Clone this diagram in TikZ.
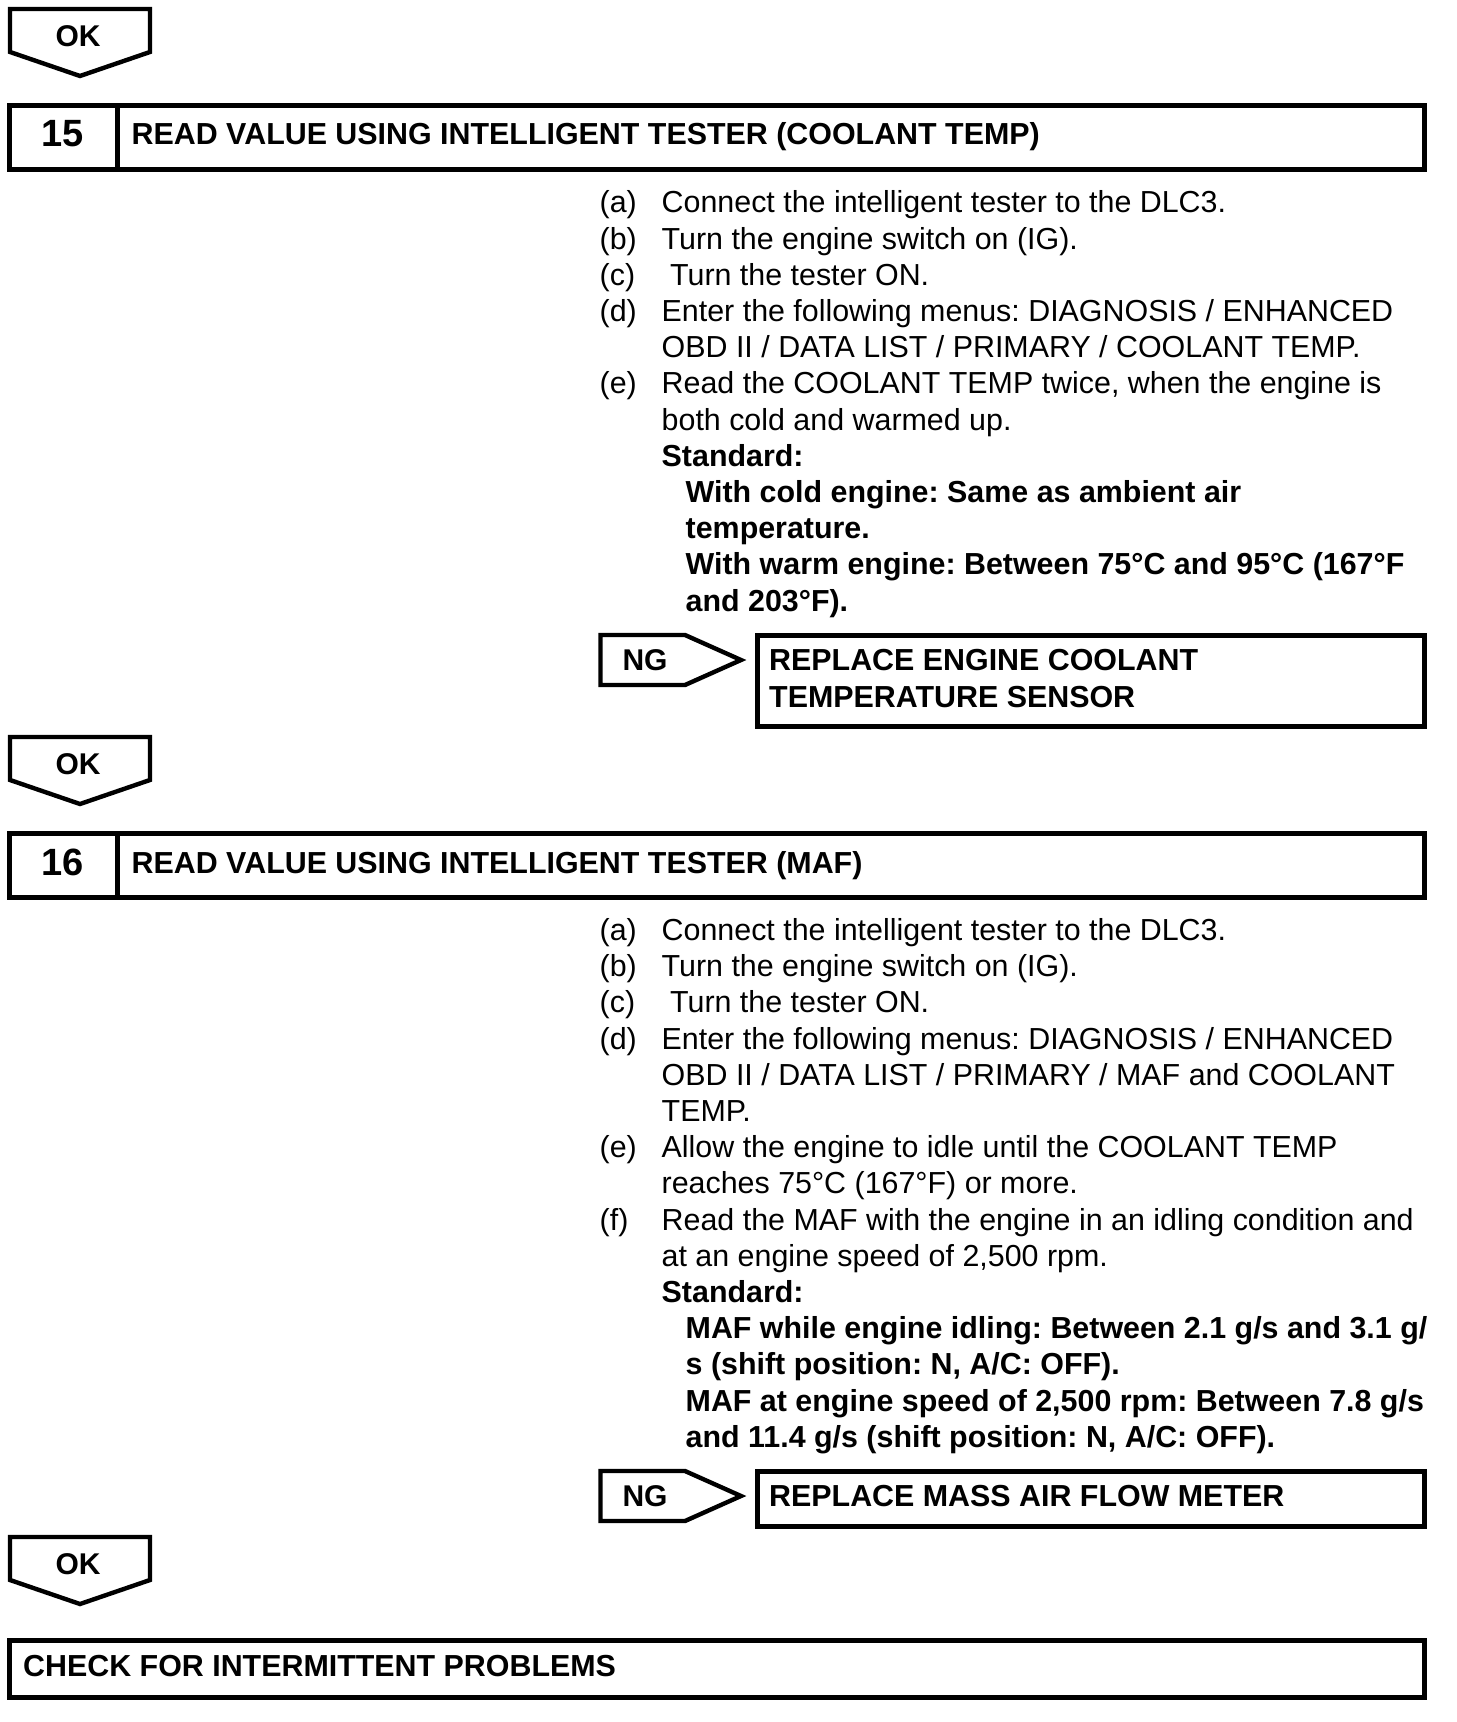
\documentclass[tikz,border=0pt]{standalone}
\usepackage{fontspec}
\setmainfont{Liberation Sans}
\frenchspacing

\begin{document}
\begin{tikzpicture}[x=0.5pt,y=-0.5pt,line width=2.2pt,
    numtxt/.style={anchor=base,inner sep=0pt,font=\bfseries\fontsize{19}{22}\selectfont},
    boldtxt/.style={anchor=base west,inner sep=0pt,align=left,
      font=\bfseries\fontsize{15.2}{18.1}\selectfont},
    steptext/.style={anchor=base west,inner sep=0pt,font=\fontsize{15.2}{18.1}\selectfont},
    flagtxt/.style={inner sep=0pt,font=\bfseries\fontsize{15}{18}\selectfont}
  ]
    \useasboundingbox (0,0) rectangle (1456,1722);

    \foreach \y/\nm in {9/ok14,737/ok15,1537/ok16}{
      \draw (10,\y) -- (150,\y) -- (150,\y+43) -- (80,\y+67) -- (10,\y+43) -- cycle;
      \node[flagtxt] (\nm) at (78,\y+27) {OK};
    }
    \foreach \y/\nm in {635/ng15,1471/ng16}{
      \draw (600.5,\y) -- (685,\y) -- (741,\y+25) -- (685,\y+50) -- (600.5,\y+50) -- cycle;
      \node[flagtxt] (\nm) at (645,\y+25.5) {NG};
    }

    \draw (9.5,105.5) rectangle (1424.5,169.5) (117.5,105.5) -- (117.5,169.5);
    \node[numtxt] (num15) at (63,147) {15};
    \node[boldtxt] (title15) at (129.5,145) {READ VALUE USING INTELLIGENT TESTER (COOLANT TEMP)};
    \node[steptext] (steps15) at (597.5,213) {\begin{tabular}[t]{@{}p{31pt}@{}l@{}}
      (a) & Connect the intelligent tester to the DLC3.\\
      (b) & Turn the engine switch on (IG).\\
      (c) & \ Turn the tester ON.\\
      (d) & Enter the following menus: DIAGNOSIS / ENHANCED\\
          & OBD II / DATA LIST / PRIMARY / COOLANT TEMP.\\
      (e) & Read the COOLANT TEMP twice, when the engine is\\
          & both cold and warmed up.\\
          & \textbf{Standard:}\\
          & \hspace*{12pt}\textbf{With cold engine: Same as ambient air}\\
          & \hspace*{12pt}\textbf{temperature.}\\
          & \hspace*{12pt}\textbf{With warm engine: Between 75°C and 95°C (167°F}\\
          & \hspace*{12pt}\textbf{and 203°F).}
    \end{tabular}};
    \draw (757.5,635.5) rectangle (1424.5,726.5);
    \node[boldtxt] (fix15) at (767,707) {REPLACE ENGINE COOLANT\\TEMPERATURE SENSOR};

    \draw (9.5,833.5) rectangle (1424.5,897.5) (117.5,833.5) -- (117.5,897.5);
    \node[numtxt] (num16) at (63,875) {16};
    \node[boldtxt] (title16) at (129.5,873) {READ VALUE USING INTELLIGENT TESTER (MAF)};
    \node[steptext] (steps16) at (597.5,940.5) {\begin{tabular}[t]{@{}p{31pt}@{}l@{}}
      (a) & Connect the intelligent tester to the DLC3.\\
      (b) & Turn the engine switch on (IG).\\
      (c) & \ Turn the tester ON.\\
      (d) & Enter the following menus: DIAGNOSIS / ENHANCED\\
          & OBD II / DATA LIST / PRIMARY / MAF and COOLANT\\
          & TEMP.\\
      (e) & Allow the engine to idle until the COOLANT TEMP\\
          & reaches 75°C (167°F) or more.\\
      (f) & Read the MAF with the engine in an idling condition and\\
          & at an engine speed of 2,500 rpm.\\
          & \textbf{Standard:}\\
          & \hspace*{12pt}\textbf{MAF while engine idling: Between 2.1 g/s and 3.1 g/}\\
          & \hspace*{12pt}\textbf{s (shift position: N, A/C: OFF).}\\
          & \hspace*{12pt}\textbf{MAF at engine speed of 2,500 rpm: Between 7.8 g/s}\\
          & \hspace*{12pt}\textbf{and 11.4 g/s (shift position: N, A/C: OFF).}
    \end{tabular}};
    \draw (757.5,1471.5) rectangle (1424.5,1526.5);
    \node[boldtxt] (fix16) at (767,1506.5) {REPLACE MASS AIR FLOW METER};

    \draw (9.5,1640.5) rectangle (1424.5,1697.5);
    \node[boldtxt] (check) at (21,1676) {CHECK FOR INTERMITTENT PROBLEMS};
  \end{tikzpicture}
\end{document}
